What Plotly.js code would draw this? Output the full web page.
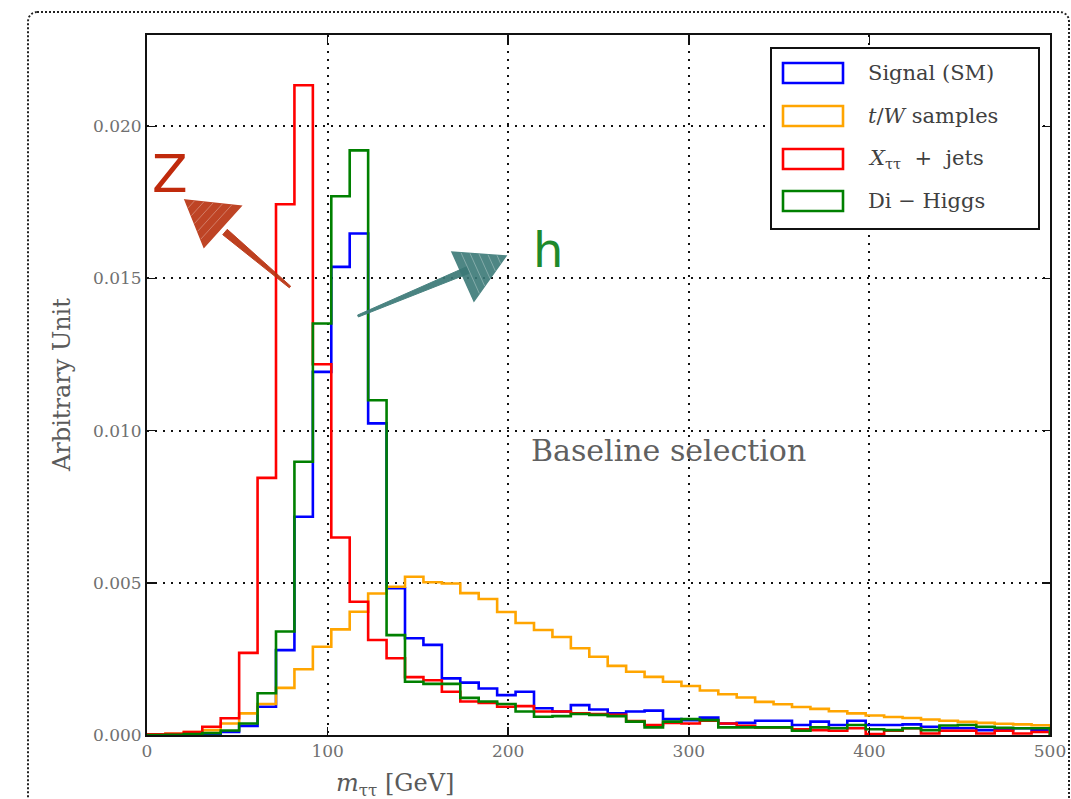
<!DOCTYPE html>
<html>
<head>
<meta charset="utf-8">
<script src="https://cdn.plot.ly/plotly-3.0.1.min.js"></script>
<style>
  html, body { margin: 0; padding: 0; background: #ffffff; }
  #wrap { position: relative; width: 1071px; height: 799px; overflow: hidden; }
  #chart { position: absolute; left: 0; top: 0; width: 1071px; height: 799px; }
  #frame {
    position: absolute; left: 27px; top: 11px; width: 1039px; height: 820px;
    border: 2px dotted #222; border-radius: 10px; pointer-events: none;
  }
</style>
</head>
<body>
<div id="wrap">
  <div id="chart"></div>
  <div id="frame"></div>
</div>
<script>
// m_tautau histograms, 49 equal bins between 0 and 500 GeV (normalised)
const binLow = 0;
const binHigh = 500;
const nBins = 49;

const signalSM = [0, 0.00001, 0.00002, 0.00004, 0.0001, 0.0003, 0.00093, 0.00279, 0.00717, 0.01193,
  0.01538, 0.01648, 0.01024, 0.00482, 0.00318, 0.00296, 0.00186, 0.00172, 0.00153, 0.00131,
  0.00142, 0.00088, 0.00077, 0.00098, 0.00084, 0.00071, 0.00077, 0.0008, 0.00052, 0.00049,
  0.00057, 0.00038, 0.0004, 0.00047, 0.00047, 0.00033, 0.00044, 0.00033, 0.00047, 0.00033,
  0.00033, 0.00035, 0.00027, 0.00022, 0.00022, 0.00016, 0.00016, 0.00022, 0.00016];

const topW = [0.00002, 0.00004, 0.0001, 0.00016, 0.00038, 0.00071, 0.00102, 0.00155, 0.00216, 0.0029,
  0.00347, 0.00405, 0.00465, 0.00487, 0.0052, 0.00502, 0.00498, 0.00466, 0.00447, 0.00404,
  0.00368, 0.00345, 0.00322, 0.00285, 0.00257, 0.00227, 0.00208, 0.00191, 0.00175, 0.00161,
  0.00146, 0.00134, 0.00123, 0.00109, 0.00101, 0.00092, 0.00086, 0.00078, 0.00071, 0.00064,
  0.00059, 0.00056, 0.00051, 0.00047, 0.00043, 0.0004, 0.00037, 0.00035, 0.00032];

const xJets = [0.00002, 0.00004, 0.0001, 0.00027, 0.00055, 0.0027, 0.00845, 0.01744, 0.02135, 0.01218,
  0.00649, 0.00438, 0.00312, 0.00252, 0.0019, 0.0018, 0.00142, 0.0011, 0.00105, 0.00093,
  0.00095, 0.00077, 0.00077, 0.00071, 0.00069, 0.00066, 0.00046, 0.00033, 0.0004, 0.00038,
  0.00047, 0.00038, 0.0003, 0.00025, 0.00025, 0.00019, 0.00016, 0.00014, 0.00022, 0.00003,
  0.00014, 0.00022, 0.00005, 0.00014, 0.00014, 0.00005, 0.00014, 0.00005, 0.0001];

const diHiggs = [0, 0.00001, 0.00003, 0.00006, 0.00015, 0.00038, 0.00137, 0.0034, 0.00898, 0.01352,
  0.0177, 0.01921, 0.011, 0.00328, 0.00175, 0.00168, 0.00168, 0.00122, 0.0011, 0.00102,
  0.00077, 0.0006, 0.00062, 0.00069, 0.00066, 0.00062, 0.00044, 0.00025, 0.00044, 0.00052,
  0.00049, 0.00025, 0.00025, 0.00025, 0.00025, 0.00014, 0.00025, 0.00022, 0.00033, 0.00019,
  0.00016, 0.00022, 0.00016, 0.00031, 0.00033, 0.00027, 0.00024, 0.00022, 0.00022];

const seriesNames = ['Signal (SM)', '<i>t</i>/<i>W</i> samples', '<i>X</i><sub>ττ</sub>  +  jets', 'Di − Higgs'];
const seriesColors = ['#0000ff', '#ffa500', '#ff0000', '#008000'];

const xTicks = [0, 100, 200, 300, 400, 500];
const yTicks = [0, 0.005, 0.01, 0.015, 0.02];

// bin edges
const edges = [];
for (let i = 0; i <= nBins; i++) edges.push(binLow + i * (binHigh - binLow) / nBins);

// closed step outline like histtype='step'
function stepOutline(vals) {
  const xs = [edges[0]], ys = [0];
  for (let i = 0; i < vals.length; i++) { xs.push(edges[i]); ys.push(vals[i]); }
  xs.push(edges[nBins]); ys.push(0);
  return { xs, ys };
}

const allSeries = [signalSM, topW, xJets, diHiggs];
const traces = allSeries.map((vals, k) => {
  const o = stepOutline(vals);
  return {
    type: 'scatter', mode: 'lines', x: o.xs, y: o.ys,
    line: { shape: 'hv', color: seriesColors[k], width: 2.6 },
    name: seriesNames[k], hoverinfo: 'skip', showlegend: false
  };
});

// page geometry of the plotting box
const W = 1071, H = 799;
const L = 147, R = 1050, T = 35, B = 735;
const px = (x) => (x - L) / (R - L);
const py = (y) => (B - y) / (B - T);

const serif = 'DejaVu Serif, Liberation Serif, serif';
const sans = 'DejaVu Sans, Liberation Sans, sans-serif';
const textGrey = '#5a5a5a';

const shapes = [];
const annotations = [];

// legend box
shapes.push({ type: 'rect', xref: 'paper', yref: 'paper', layer: 'above',
  x0: px(771), x1: px(1039), y0: py(229), y1: py(48),
  line: { color: '#111', width: 2 }, fillcolor: '#ffffff' });
const legendRows = [73, 116, 159, 201];
legendRows.forEach((cy, k) => {
  shapes.push({ type: 'rect', xref: 'paper', yref: 'paper', layer: 'above',
    x0: px(783), x1: px(843), y0: py(cy + 10), y1: py(cy - 10),
    line: { color: seriesColors[k], width: 2.6 }, fillcolor: 'rgba(0,0,0,0)' });
  annotations.push({ xref: 'paper', yref: 'paper', x: px(866), y: py(cy),
    xanchor: 'left', yanchor: 'middle', showarrow: false, text: seriesNames[k],
    font: { family: serif, size: 21, color: '#404040' } });
});

// sketched arrows towards the Z and h peaks
function sketchArrow(tail, neck, tip, c1, c2, color) {
  const P = (p) => px(p[0]) + ',' + py(p[1]);
  const dx = neck[0] - tail[0], dy = neck[1] - tail[1];
  const len = Math.hypot(dx, dy);
  const nx = -dy / len * 3.5, ny = dx / len * 3.5;
  shapes.push({ type: 'path', xref: 'paper', yref: 'paper', layer: 'above',
    path: 'M' + P([tail[0] - nx * 0.3, tail[1] - ny * 0.3]) + ' L' + P([neck[0] - nx, neck[1] - ny]) +
          ' L' + P([neck[0] + nx, neck[1] + ny]) + ' L' + P([tail[0] + nx * 0.3, tail[1] + ny * 0.3]) + ' Z',
    fillcolor: color, line: { color: color, width: 1 }, opacity: 0.92 });
  shapes.push({ type: 'path', xref: 'paper', yref: 'paper', layer: 'above',
    path: 'M' + P(tip) + ' L' + P(c1) + ' L' + P(c2) + ' Z',
    fillcolor: color, line: { color: color, width: 1.5 }, opacity: 0.9 });
  // pencil strokes over the head
  for (let s = 1; s <= 5; s++) {
    const f = s / 6;
    const a = [tip[0] + (c1[0] - tip[0]) * f, tip[1] + (c1[1] - tip[1]) * f];
    const b = [tip[0] + (c2[0] - tip[0]) * f, tip[1] + (c2[1] - tip[1]) * f];
    shapes.push({ type: 'line', xref: 'paper', yref: 'paper', layer: 'above',
      x0: px(a[0]), y0: py(a[1]), x1: px(b[0]), y1: py(b[1]),
      line: { color: 'rgba(255,255,255,0.3)', width: 1 } });
  }
}
sketchArrow([290, 287], [225, 232], [185, 200], [241, 206], [204, 247], '#b8300e');
sketchArrow([358, 316], [468, 270], [506, 256], [452, 252], [474, 301], '#3b7977');

annotations.push({ xref: 'paper', yref: 'paper', x: px(170), y: py(174), showarrow: false,
  text: 'Z', font: { family: sans, size: 52, color: '#c02a0c' }, xanchor: 'center', yanchor: 'middle' });
annotations.push({ xref: 'paper', yref: 'paper', x: px(548), y: py(250), showarrow: false,
  text: 'h', font: { family: sans, size: 48, color: '#1e8a2c' }, xanchor: 'center', yanchor: 'middle' });
annotations.push({ xref: 'paper', yref: 'paper', x: px(668), y: py(450), showarrow: false,
  text: 'Baseline selection', font: { family: serif, size: 30, color: '#606060' },
  xanchor: 'center', yanchor: 'middle' });

// axis titles
annotations.push({ xref: 'paper', yref: 'paper', x: px(62), y: py(385), showarrow: false,
  text: 'Arbitrary Unit', textangle: -90, font: { family: serif, size: 24, color: textGrey },
  xanchor: 'center', yanchor: 'middle' });
annotations.push({ xref: 'paper', yref: 'paper', x: px(395), y: py(784), showarrow: false,
  text: '<i>m</i><sub>ττ</sub> [GeV]', font: { family: serif, size: 24, color: textGrey },
  xanchor: 'center', yanchor: 'middle' });

const axisCommon = {
  showline: true, linecolor: '#111', linewidth: 2, mirror: 'ticks',
  ticks: 'inside', ticklen: 8, tickwidth: 1.5, tickcolor: '#111',
  showgrid: true, gridcolor: '#111', gridwidth: 2, griddash: '2px,6px',
  zeroline: false, fixedrange: true,
  tickfont: { family: serif, size: 17, color: '#707070' }
};

const layout = {
  width: W, height: H,
  margin: { l: L, r: W - R, t: T, b: H - B, pad: 0 },
  paper_bgcolor: 'rgba(0,0,0,0)', plot_bgcolor: '#ffffff',
  showlegend: false,
  xaxis: Object.assign({}, axisCommon, { range: [binLow, binHigh], tickvals: xTicks,
    ticktext: xTicks.map(String) }),
  yaxis: Object.assign({}, axisCommon, { range: [0, 0.023], tickvals: yTicks,
    ticktext: yTicks.map(v => v.toFixed(3)) }),
  shapes: shapes,
  annotations: annotations
};

Plotly.newPlot('chart', traces, layout, { displayModeBar: false, staticPlot: true });
</script>
</body>
</html>
